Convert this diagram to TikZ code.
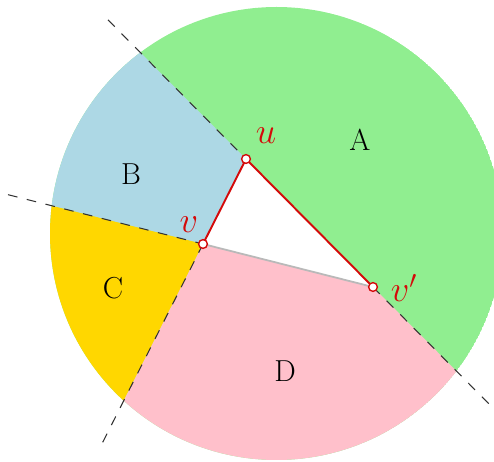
\documentclass[tikz,border=0pt]{standalone}
\usepackage[svgnames]{xcolor}
\usetikzlibrary{calc}
\definecolor{myred}{RGB}{212,10,10}
\tikzset{
  dashline/.style={black!80, line width=0.6pt, dash pattern=on 5.5pt off 5.5pt},
  redline/.style={myred, line width=1.1pt},
  pt/.style={circle, draw=myred, fill=white, line width=0.8pt, inner sep=0pt, minimum size=5pt},
  lab/.style={font=\LARGE},
  ptlab/.style={font=\huge, text=myred},
}
\begin{document}
\begin{tikzpicture}[x=0.02cm,y=-0.02cm]
\useasboundingbox (0,0) rectangle (494,462);
\clip (0,0) rectangle (494,462);
\coordinate (u) at (246,159);
\coordinate (v) at (203,244);
\coordinate (vp) at (373,287);
\coordinate (c) at (276.5,233.5);
\coordinate (P1) at ($(u)!-4!(vp)$);
\coordinate (P2) at ($(vp)!-4!(u)$);
\coordinate (Q1) at ($(v)!-4!(vp)$);
\coordinate (R1) at ($(v)!-4!(u)$);
\coordinate (E1) at ($(u)!-1.087!(vp)$);
\coordinate (E2) at ($(vp)!-0.937!(u)$);
\coordinate (E3) at ($(v)!-1.147!(vp)$);
\coordinate (E4) at ($(v)!-2.4!(u)$);
\begin{scope}
  \clip (c) circle[radius=226.5];
  \fill[LightGreen] (c) circle[radius=226.5];
  \fill[LightBlue] (u) -- (P1) -- (Q1) -- (v) -- cycle;
  \fill[Gold] (v) -- (Q1) -- (R1) -- cycle;
  \fill[Pink] (v) -- (R1) -- (P2) -- (vp) -- cycle;
\end{scope}
\fill[white] (u) -- (v) -- (vp) -- cycle;
\draw[dashline] (E1) -- (u);
\draw[dashline] (vp) -- (E2);
\draw[dashline] (E3) -- (v);
\draw[dashline] (v) -- (E4);
\draw[gray!55, line width=1pt] (v) -- (vp);
\draw[redline] (v) -- (u) -- (vp);
\node[pt] (nu) at (u) {};
\node[pt] (nv) at (v) {};
\node[pt] (nvp) at (vp) {};
\node[ptlab] (lu) at (266,136) {$u$};
\node[ptlab] (lv) at (189,225) {$v$};
\node[ptlab] (lvp) at (404,288) {$v'$};
\node[lab] (A) at (360,140) {A};
\node[lab] (B) at (131,174) {B};
\node[lab] (C) at (113,288) {C};
\node[lab] (D) at (285,371) {D};
\end{tikzpicture}
\end{document}
